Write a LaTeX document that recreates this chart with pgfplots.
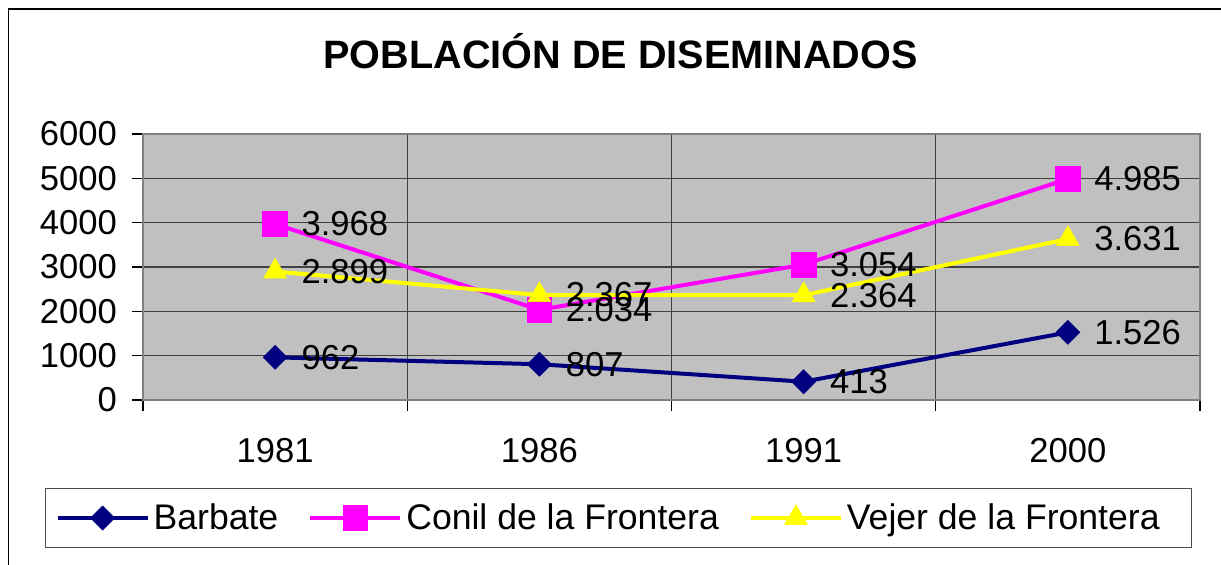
\documentclass[border=0pt]{standalone}
\usepackage{pgfplots}
\pgfplotsset{compat=1.18}
\usepackage{fontspec}
\setmainfont{Liberation Sans}
\definecolor{navyc}{HTML}{000080}
\definecolor{mag}{HTML}{FF00FF}
\definecolor{yel}{HTML}{FFFF00}
\definecolor{plotbg}{HTML}{C0C0C0}
\newcommand\lf{\fontsize{17.3}{20}\selectfont}
\newcommand\lgf{\fontsize{17.8}{20}\selectfont}
\pgfplotstableread{
x y lab
0 962 962
1 807 807
2 413 413
3 1526 1.526
}\barbate
\pgfplotstableread{
x y lab
0 3968 3.968
1 2034 2.034
2 3054 3.054
3 4985 4.985
}\conil
\pgfplotstableread{
x y lab
0 2899 2.899
1 2367 2.367
2 2364 2.364
3 3631 3.631
}\vejer
\begin{document}
\begin{tikzpicture}
\path[use as bounding box] (0,0) rectangle (610.5pt,-282.5pt);
\draw[line width=0.9pt] (4.25pt,-282.5pt) -- (4.25pt,-4.5pt) -- (610.5pt,-4.5pt);
\node[anchor=base, font=\fontsize{19.8}{24}\selectfont\bfseries, inner sep=0pt] at (310.25pt,-34.5pt) {POBLACIÓN DE DISEMINADOS};
\begin{axis}[
  at={(71.5pt,-200pt)}, anchor=south west,
  scale only axis, width=528.5pt, height=133pt,
  xmin=-0.5, xmax=3.5, ymin=0, ymax=6000,
  axis background/.style={fill=plotbg},
  axis line style={draw=black!50, line width=1.2pt},
  tick align=outside, tick pos=left,
  major tick length=5.5pt,
  tick style={black, line width=0.6pt},
  xtick={-0.5,0.5,1.5,2.5,3.5}, xticklabels={},
  xmajorgrids,
  extra x ticks={0,1,2,3},
  extra x tick labels={1981,1986,1991,2000},
  extra x tick style={major tick length=0pt, grid=none, xticklabel style={yshift=-15.5pt}},
  ytick={0,1000,...,6000},
  ymajorgrids,
  major grid style={black!75, line width=0.6pt},
  ticklabel style={font=\lf},
  yticklabel style={xshift=-4pt},
  /pgf/number format/assume math mode=true,
  /pgf/number format/1000 sep={},
  legend columns=3,
  legend cell align=left,
  legend style={at={(-0.0927,-0.3308)}, anchor=north west, draw=black!70, line width=0.6pt,
    font=\lgf, inner xsep=5pt, inner ysep=5.5pt,
    /tikz/every even column/.append style={column sep=13pt}},
  legend image code/.code={\draw[mark repeat=2,mark phase=2,#1] plot coordinates {(0pt,0pt) (22.5pt,0pt) (45pt,0pt)};},
]
\addplot[navyc, line width=2pt, mark=square*, mark size=4.25pt, mark options={rotate=45, solid, line width=0.3pt}] table[x=x,y=y] {\barbate};
\addlegendentry{Barbate}
\addplot[mag, line width=2pt, mark=square*, mark size=6.2pt, mark options={solid, line width=0.3pt}] table[x=x,y=y] {\conil};
\addlegendentry{Conil de la Frontera}
\addplot[yel, line width=2pt, mark=triangle*, mark size=6.6pt, mark options={solid, line width=0.3pt}] table[x=x,y=y] {\vejer};
\addlegendentry{Vejer de la Frontera\rule{9pt}{0pt}}
\pgfplotsset{every node near coord/.style={anchor=west, xshift=13pt, inner sep=0pt, font=\lf, text=black}}
\addplot[draw=none, mark=none, forget plot, nodes near coords, point meta=explicit symbolic] table[x=x,y=y,meta=lab] {\barbate};
\addplot[draw=none, mark=none, forget plot, nodes near coords, point meta=explicit symbolic] table[x=x,y=y,meta=lab] {\conil};
\addplot[draw=none, mark=none, forget plot, nodes near coords, point meta=explicit symbolic] table[x=x,y=y,meta=lab] {\vejer};
\end{axis}
\end{tikzpicture}
\end{document}
